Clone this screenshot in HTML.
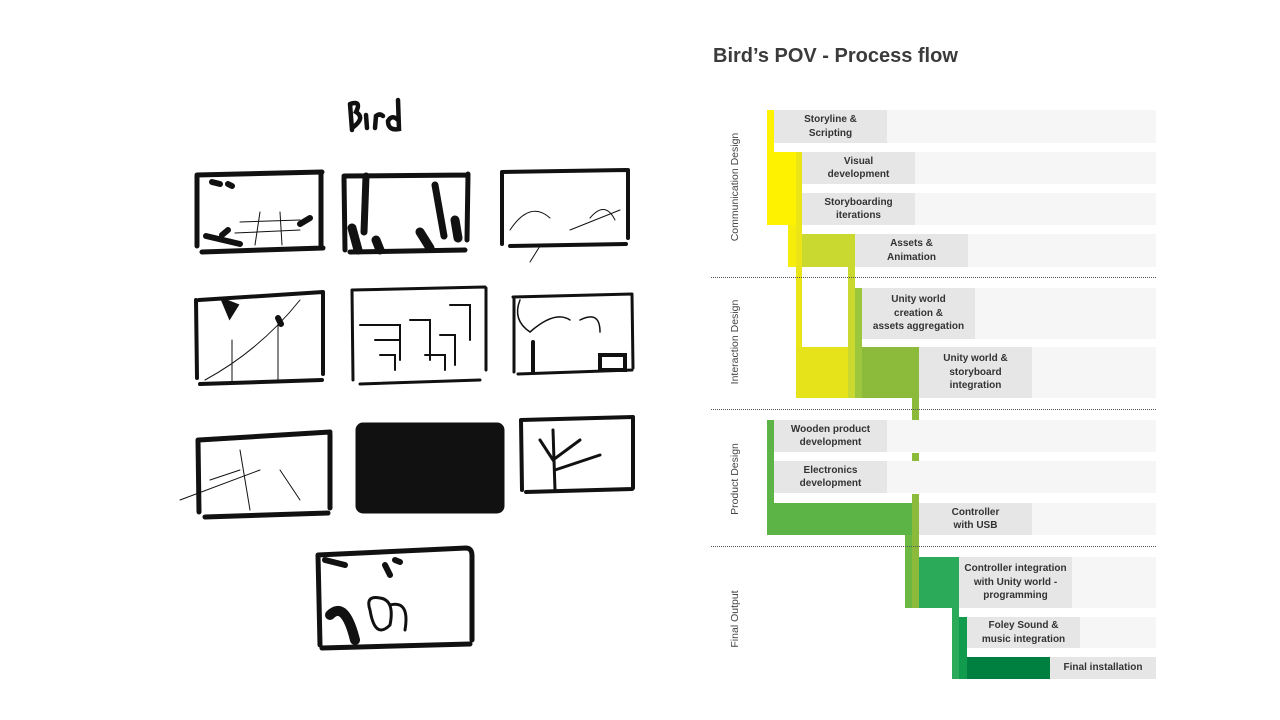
<!DOCTYPE html>
<html><head><meta charset="utf-8"><style>
body{margin:0;width:1280px;height:720px;background:#fff;position:relative;overflow:hidden;font-family:"Liberation Sans",sans-serif}
.a{position:absolute}
.bg{position:absolute;background:#f5f6f5}
.lb{position:absolute;background:#e6e6e6;color:#333;font-weight:bold;font-size:10px;line-height:13.5px;display:flex;align-items:center;justify-content:center;text-align:center}
.dv{position:absolute;left:711px;width:445px;border-top:1px dotted #555;height:0}
.sec{position:absolute;transform:rotate(-90deg);transform-origin:center;font-size:10.5px;color:#444;white-space:nowrap;width:160px;text-align:center}
</style></head><body>
<div class="a" style="left:713px;top:45px;font-size:20px;font-weight:bold;color:#3b3b3b">Bird’s POV - Process flow</div>

<div class="bg" style="left:774px;top:110px;width:382px;height:33px"></div>
<div class="bg" style="left:802px;top:152px;width:354px;height:32px"></div>
<div class="bg" style="left:802px;top:193px;width:354px;height:32px"></div>
<div class="bg" style="left:855px;top:234px;width:301px;height:33px"></div>
<div class="bg" style="left:862px;top:288px;width:294px;height:51px"></div>
<div class="bg" style="left:919px;top:347px;width:237px;height:51px"></div>
<div class="bg" style="left:774px;top:420px;width:382px;height:32px"></div>
<div class="bg" style="left:774px;top:461px;width:382px;height:32px"></div>
<div class="bg" style="left:919px;top:503px;width:237px;height:32px"></div>
<div class="bg" style="left:959px;top:557px;width:197px;height:51px"></div>
<div class="bg" style="left:967px;top:617px;width:189px;height:31px"></div>
<div class="bg" style="left:1050px;top:657px;width:106px;height:22px"></div>

<div class="a" style="left:767px;top:110px;width:7px;height:42px;background:#fff200"></div>
<div class="a" style="left:767px;top:152px;width:29px;height:73px;background:#fff200"></div>
<div class="a" style="left:788px;top:225px;width:8px;height:42px;background:#f6ee0a"></div>
<div class="a" style="left:796px;top:152px;width:6px;height:246px;background:#ebe518"></div>
<div class="a" style="left:802px;top:234px;width:53px;height:33px;background:#c9d92f"></div>
<div class="a" style="left:848px;top:234px;width:7px;height:164px;background:#c9d92f"></div>
<div class="a" style="left:855px;top:288px;width:7px;height:110px;background:#9cc63b"></div>
<div class="a" style="left:796px;top:347px;width:52px;height:51px;background:#e6e31a"></div>
<div class="a" style="left:862px;top:347px;width:57px;height:51px;background:#8cbb3c"></div>
<div class="a" style="left:912px;top:398px;width:7px;height:22px;background:#8cbb3c"></div>
<div class="a" style="left:912px;top:453px;width:7px;height:8px;background:#8cbb3c"></div>
<div class="a" style="left:767px;top:420px;width:7px;height:83px;background:#5db446"></div>
<div class="a" style="left:767px;top:503px;width:145px;height:32px;background:#5db446"></div>
<div class="a" style="left:912px;top:494px;width:7px;height:114px;background:#8cbb3c"></div>
<div class="a" style="left:905px;top:535px;width:7px;height:73px;background:#6db743"></div>
<div class="a" style="left:919px;top:557px;width:40px;height:51px;background:#2bab5a"></div>
<div class="a" style="left:952px;top:608px;width:7px;height:71px;background:#2bab5a"></div>
<div class="a" style="left:959px;top:617px;width:8px;height:62px;background:#109c4c"></div>
<div class="a" style="left:967px;top:657px;width:83px;height:22px;background:#008040"></div>

<div class="lb" style="left:774px;top:110px;width:113px;height:33px">Storyline &amp;<br>Scripting</div>
<div class="lb" style="left:802px;top:152px;width:113px;height:32px">Visual<br>development</div>
<div class="lb" style="left:802px;top:193px;width:113px;height:32px">Storyboarding<br>iterations</div>
<div class="lb" style="left:855px;top:234px;width:113px;height:33px">Assets &amp;<br>Animation</div>
<div class="lb" style="left:862px;top:288px;width:113px;height:51px">Unity world<br>creation &amp;<br>assets aggregation</div>
<div class="lb" style="left:919px;top:347px;width:113px;height:51px">Unity world &amp;<br>storyboard<br>integration</div>
<div class="lb" style="left:774px;top:420px;width:113px;height:32px">Wooden product<br>development</div>
<div class="lb" style="left:774px;top:461px;width:113px;height:32px">Electronics<br>development</div>
<div class="lb" style="left:919px;top:503px;width:113px;height:32px">Controller<br>with USB</div>
<div class="lb" style="left:959px;top:557px;width:113px;height:51px">Controller integration<br>with Unity world -<br>programming</div>
<div class="lb" style="left:967px;top:617px;width:113px;height:31px">Foley Sound &amp;<br>music integration</div>
<div class="lb" style="left:1050px;top:657px;width:106px;height:22px">Final installation</div>

<div class="dv" style="top:277px"></div>
<div class="dv" style="top:409px"></div>
<div class="dv" style="top:546px"></div>

<div class="sec" style="left:655px;top:181px">Communication Design</div>
<div class="sec" style="left:655px;top:336px">Interaction Design</div>
<div class="sec" style="left:655px;top:473px">Product Design</div>
<div class="sec" style="left:655px;top:613px">Final Output</div>

<svg class="a" style="left:0;top:0" width="700" height="720" viewBox="0 0 700 720">
<g fill="none" stroke="#111" stroke-linecap="round">
<path d="M350 104 L352 130 M350 104 Q362 100 356 112 Q366 118 352 128 M366 115 L367 128 M375 128 L376 116 Q380 113 383 116 M398 100 L399 129 Q388 131 388 121 Q392 114 398 120" stroke-width="4.5"/>
<path d="M197 175 L322 172 M197 176 L197 246 M321 172 L321 246 M202 252 L323 248" stroke-width="5"/>
<path d="M206 236 L240 244 M222 235 L228 230 M300 224 L310 218 M212 182 L220 184 M228 184 L232 186" stroke-width="6"/>
<path d="M240 222 L300 220 M235 233 L300 230 M260 212 L255 245 M280 212 L282 245" stroke-width="1"/>
<path d="M344 176 L468 175 M344 178 L345 250 M468 174 L467 240 M350 252 L465 250" stroke-width="5"/>
<path d="M366 176 L364 232 M435 185 L444 236" stroke-width="7"/>
<path d="M352 228 L358 250 M420 232 L430 248 M455 220 L458 238 M376 240 L380 250" stroke-width="9"/>
<path d="M502 172 L626 170 M502 172 L502 244 M628 170 L628 238 M510 246 L626 244" stroke-width="4"/>
<path d="M510 230 Q530 200 550 218 M590 218 Q605 200 615 220 M540 246 L530 262 M570 230 L620 210" stroke-width="1"/>
<path d="M199 300 L323 292 M196 300 L197 378 M323 292 L323 374 M200 384 L322 380" stroke-width="4"/>
<path d="M225 302 L235 306 L230 314 Z M278 318 L281 324" stroke-width="6"/>
<path d="M205 380 Q260 350 300 300 M232 340 L232 382 M278 322 L278 382" stroke-width="1"/>
<path d="M352 290 L485 287 M352 290 L353 380 M486 288 L486 370 M360 384 L480 380" stroke-width="3"/>
<path d="M360 325 L400 325 L400 360 M375 340 L400 340 M410 320 L430 320 L430 360 M450 305 L470 305 L470 340 M440 335 L455 335 L455 365 M425 355 L445 355 L445 370 M380 355 L395 355 L395 370" stroke-width="2"/>
<path d="M513 297 L632 294 M514 298 L514 372 M632 294 L633 368 M518 374 L632 370" stroke-width="3"/>
<path d="M520 300 Q512 320 530 332 Q555 310 570 320 M580 320 Q600 310 600 332" stroke-width="1.5"/>
<path d="M533 342 L533 372 M600 355 L625 355 L625 370 L600 370 Z" stroke-width="4"/>
<path d="M199 440 L330 432 M198 440 L199 512 M330 434 L330 508 M205 517 L328 513" stroke-width="5"/>
<path d="M180 500 L260 470 M240 450 L250 510 M280 470 L300 500 M210 480 L240 470" stroke-width="1"/>
<rect x="357" y="424" width="146" height="88" rx="6" fill="#111" stroke="#111" stroke-width="3"/>
<path d="M521 420 L633 417 M521 420 L522 490 M633 418 L633 488 M526 492 L632 489" stroke-width="4"/>
<path d="M553 430 L555 490 M540 440 L553 460 L580 440 M555 470 L600 455" stroke-width="3"/>
<path d="M318 555 L466 548 Q472 548 472 556 L472 640 M318 555 L320 645 M322 648 L470 644" stroke-width="5"/>
<path d="M330 615 Q345 600 355 640" stroke-width="10"/>
<path d="M370 610 Q365 595 380 598 Q395 600 390 625 Q375 640 370 610 Z M390 605 Q410 600 405 630" stroke-width="3"/>
<path d="M325 560 L345 565 M385 565 L390 575 M395 560 L400 562" stroke-width="6"/>
</g>
</svg>
</body></html>
